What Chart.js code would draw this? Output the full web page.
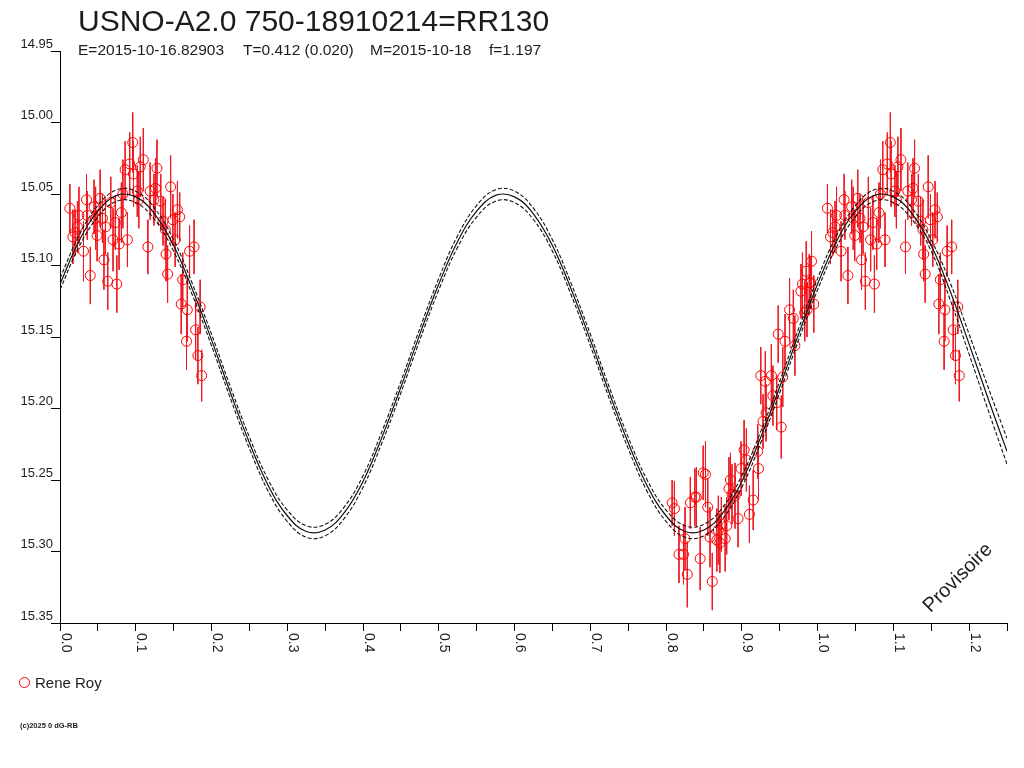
<!DOCTYPE html>
<html><head><meta charset="utf-8">
<script src="https://cdn.jsdelivr.net/npm/chart.js@4.4.1/dist/chart.umd.min.js"></script>
<style>html,body{margin:0;padding:0;background:#fff;}canvas{display:block;}</style>
</head><body>
<canvas id="c" width="1024" height="768"></canvas>
<script>
const titleText = 'USNO-A2.0 750-18910214=RR130';
const subtitleParts = ['E=2015-10-16.82903', 'T=0.412 (0.020)', 'M=2015-10-18', 'f=1.197'];
const observerName = 'Rene Roy';
const copyrightText = '(c)2025 0 dG-RB';
const watermarkText = 'Provisoire';

const yTickLabels = ['14.95','15.00','15.05','15.10','15.15','15.20','15.25','15.30','15.35'];
const xTickValues = [0,0.1,0.2,0.3,0.4,0.5,0.6,0.7,0.8,0.9,1.0,1.1,1.2];
const xTickLabels = ['0.0','0.1','0.2','0.3','0.4','0.5','0.6','0.7','0.8','0.9','1.0','1.1','1.2'];

// observations, phase 0.0-0.2 (also shown at phase + 1)
const leftPhase = [0.013,0.017,0.020,0.023,0.025,0.031,0.035,0.036,0.040,0.045,0.047,0.049,0.053,0.056,0.058,0.060,0.063,0.067,0.070,0.073,0.075,0.078,0.081,0.083,0.086,0.089,0.092,0.096,0.097,0.102,0.104,0.106,0.110,0.116,0.119,0.124,0.126,0.128,0.133,0.136,0.139,0.140,0.142,0.146,0.149,0.152,0.155,0.158,0.160,0.162,0.167,0.168,0.171,0.177,0.179,0.182,0.185,0.187];
const leftMag = [15.060,15.080,15.077,15.073,15.065,15.090,15.054,15.065,15.107,15.059,15.067,15.079,15.053,15.067,15.096,15.073,15.111,15.056,15.082,15.070,15.113,15.085,15.063,15.050,15.033,15.082,15.029,15.014,15.036,15.048,15.054,15.031,15.026,15.087,15.048,15.054,15.046,15.032,15.055,15.069,15.075,15.092,15.106,15.045,15.068,15.082,15.061,15.066,15.127,15.110,15.153,15.131,15.090,15.087,15.145,15.163,15.129,15.177];
const leftErr = [0.017,0.019,0.016,0.018,0.020,0.021,0.018,0.017,0.020,0.019,0.022,0.018,0.020,0.017,0.021,0.019,0.020,0.018,0.022,0.019,0.020,0.018,0.021,0.024,0.020,0.019,0.022,0.021,0.023,0.018,0.020,0.021,0.022,0.019,0.020,0.018,0.021,0.020,0.019,0.017,0.021,0.019,0.020,0.022,0.018,0.019,0.020,0.017,0.021,0.019,0.020,0.022,0.018,0.019,0.021,0.020,0.019,0.018];

// observations, phase 0.8-1.0
const rightPhase = [0.808,0.811,0.817,0.823,0.825,0.828,0.832,0.838,0.840,0.845,0.849,0.852,0.855,0.858,0.861,0.867,0.869,0.871,0.873,0.878,0.880,0.883,0.885,0.887,0.891,0.895,0.899,0.903,0.906,0.910,0.915,0.921,0.922,0.925,0.928,0.931,0.932,0.939,0.941,0.946,0.948,0.952,0.954,0.957,0.963,0.968,0.970,0.978,0.980,0.983,0.985,0.986,0.989,0.991,0.992,0.995];
const rightMag = [15.266,15.270,15.302,15.302,15.291,15.316,15.266,15.262,15.262,15.305,15.245,15.246,15.269,15.290,15.321,15.292,15.285,15.294,15.281,15.291,15.282,15.256,15.250,15.260,15.261,15.277,15.242,15.229,15.236,15.274,15.264,15.230,15.242,15.177,15.209,15.181,15.203,15.177,15.191,15.196,15.148,15.213,15.178,15.153,15.131,15.137,15.156,15.118,15.113,15.133,15.104,15.131,15.112,15.112,15.097,15.127];
const rightErr = [0.016,0.019,0.020,0.021,0.022,0.023,0.018,0.020,0.021,0.022,0.019,0.023,0.020,0.021,0.020,0.022,0.024,0.021,0.019,0.023,0.020,0.022,0.019,0.021,0.023,0.020,0.019,0.021,0.022,0.020,0.021,0.019,0.022,0.020,0.019,0.021,0.020,0.022,0.021,0.019,0.020,0.022,0.021,0.019,0.022,0.020,0.021,0.019,0.022,0.020,0.021,0.019,0.020,0.018,0.021,0.020];

// fitted light curve
const curvePhase = [0,0.025,0.05,0.075,0.1,0.125,0.15,0.175,0.2,0.225,0.25,0.275,0.3,0.325,0.35,0.375,0.4,0.425,0.45,0.475,0.5,0.525,0.55,0.575,0.6,0.625,0.65,0.675,0.7,0.725,0.75,0.775,0.8,0.825,0.85,0.875,0.9,0.925,0.95,0.975,1.0,1.025,1.05,1.075,1.1,1.125,1.15,1.175,1.2,1.225,1.25];
const curveMid = [15.113,15.083,15.062,15.051,15.052,15.064,15.086,15.117,15.152,15.189,15.224,15.254,15.275,15.286,15.285,15.273,15.251,15.220,15.185,15.148,
                  15.113,15.083,15.062,15.051,15.052,15.064,15.086,15.117,15.152,15.189,15.224,15.254,15.275,15.286,15.285,15.273,15.251,15.220,15.185,15.148,
                  15.113,15.083,15.062,15.051,15.052,15.064,15.086,15.118,15.155,15.193,15.230];
const curveUpper = [15.109,15.079,15.058,15.047,15.048,15.060,15.082,15.113,15.148,15.185,15.220,15.250,15.271,15.282,15.281,15.269,15.247,15.216,15.181,15.144,
                    15.109,15.079,15.058,15.047,15.048,15.060,15.082,15.113,15.148,15.185,15.220,15.250,15.271,15.282,15.281,15.269,15.247,15.216,15.181,15.144,
                    15.109,15.079,15.058,15.047,15.048,15.060,15.082,15.112,15.148,15.185,15.221];
const curveLower = [15.117,15.087,15.066,15.055,15.056,15.068,15.090,15.121,15.156,15.193,15.228,15.258,15.279,15.290,15.289,15.277,15.255,15.224,15.189,15.152,
                    15.117,15.087,15.066,15.055,15.056,15.068,15.090,15.121,15.156,15.193,15.228,15.258,15.279,15.290,15.289,15.277,15.255,15.224,15.189,15.152,
                    15.117,15.087,15.066,15.055,15.056,15.068,15.090,15.124,15.162,15.201,15.239];

// ---- build datasets ----
const obsPts = [];
const errSegs = [];
function addObs(p, m, e) {
  obsPts.push({x: p, y: m});
  errSegs.push({x: p, y: m - e}, {x: p, y: m + e}, {x: p, y: null});
}
leftPhase.forEach((p, i) => { addObs(p, leftMag[i], leftErr[i]); addObs(p + 1, leftMag[i], leftErr[i]); });
rightPhase.forEach((p, i) => addObs(p, rightMag[i], rightErr[i]));

const curve = arr => curvePhase.map((p, i) => ({x: p, y: arr[i]}));

const FONT = '"Liberation Sans", Arial, sans-serif';
const INK = '#1c1c1c';

const decor = {
  id: 'decor',
  afterDraw(chart) {
    const ctx = chart.ctx, xs = chart.scales.x, area = chart.chartArea;
    ctx.save();
    ctx.fillStyle = INK;
    ctx.textAlign = 'left';
    ctx.textBaseline = 'alphabetic';
    ctx.font = '30px ' + FONT;
    ctx.fillText(titleText, 78, 31);
    ctx.font = '15.5px ' + FONT;
    const sx = [78, 243, 370, 489];
    subtitleParts.forEach((t, i) => ctx.fillText(t, sx[i], 55));
    // rotated x tick labels (reading downward)
    ctx.font = '14px ' + FONT;
    xTickValues.forEach((v, i) => {
      const px = xs.getPixelForValue(v);
      ctx.save();
      ctx.translate(px + 1.5, area.bottom + 10);
      ctx.rotate(Math.PI / 2);
      ctx.fillText(xTickLabels[i], 0, 0);
      ctx.restore();
    });
    // legend
    ctx.strokeStyle = '#ff0000';
    ctx.lineWidth = 1;
    ctx.beginPath();
    ctx.arc(24.5, 682.5, 5, 0, Math.PI * 2);
    ctx.stroke();
    ctx.font = '15px ' + FONT;
    ctx.fillText(observerName, 35, 688);
    // copyright
    ctx.font = 'bold 7.5px ' + FONT;
    ctx.fillText(copyrightText, 20, 728);
    // watermark
    ctx.save();
    ctx.translate(958, 578);
    ctx.rotate(-Math.PI / 4);
    ctx.textAlign = 'center';
    ctx.textBaseline = 'middle';
    ctx.font = '20px ' + FONT;
    ctx.fillText(watermarkText, 0, 0);
    ctx.restore();
    ctx.restore();
  }
};

new Chart(document.getElementById('c'), {
  type: 'scatter',
  data: {
    datasets: [
      { label: 'fit', data: curve(curveMid), showLine: true, borderColor: '#111', borderWidth: 1.2, pointRadius: 0, tension: 0.4, order: 0 },
      { label: 'fit+', data: curve(curveUpper), showLine: true, borderColor: '#111', borderWidth: 1.1, borderDash: [4, 2], pointRadius: 0, tension: 0.4, order: 1 },
      { label: 'fit-', data: curve(curveLower), showLine: true, borderColor: '#111', borderWidth: 1.1, borderDash: [4, 2], pointRadius: 0, tension: 0.4, order: 2 },
      { label: observerName, data: obsPts, showLine: false, pointStyle: 'circle', pointRadius: 5, borderColor: '#ff0000', backgroundColor: 'rgba(0,0,0,0)', borderWidth: 1, order: 3 },
      { label: 'err', data: errSegs, showLine: true, spanGaps: false, borderColor: '#ee1c24', borderWidth: 1, pointRadius: 0, order: 4 }
    ]
  },
  options: {
    responsive: false,
    animation: false,
    devicePixelRatio: 1,
    layout: { padding: { left: 0, top: 51, right: 17, bottom: 137 } },
    plugins: { legend: { display: false }, tooltip: { enabled: false } },
    scales: {
      x: {
        type: 'linear', min: 0, max: 1.25,
        border: { display: true, color: '#000', width: 1 },
        grid: { drawOnChartArea: false, drawTicks: true, tickLength: 8, color: '#000' },
        ticks: { stepSize: 0.05, maxTicksLimit: 100, display: false },
        afterFit: s => { s.height = 8; }
      },
      y: {
        type: 'linear', min: 14.95, max: 15.35, reverse: true,
        border: { display: true, color: '#000', width: 1 },
        grid: { drawOnChartArea: false, drawTicks: true, tickLength: 9, color: '#000' },
        ticks: {
          stepSize: 0.05, maxTicksLimit: 100, padding: -2, labelOffset: -7,
          color: INK, font: { family: '"Liberation Sans", Arial, sans-serif', size: 13 },
          callback: v => { const l = yTickLabels.find(s => Math.abs(+s - v) < 1e-6); return l === undefined ? '' : l; }
        },
        afterFit: s => { s.width = 60; }
      }
    }
  },
  plugins: [decor]
});
</script>
</body></html>
